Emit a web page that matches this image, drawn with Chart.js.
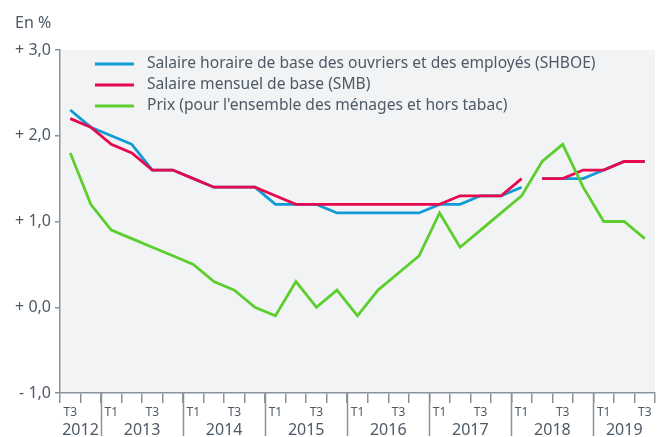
<!DOCTYPE html>
<html>
<head>
<meta charset="utf-8">
<script src="https://cdn.jsdelivr.net/npm/chart.js@4"></script>
<style>
  html, body { margin: 0; padding: 0; background: #fff; }
  #wrap { position: relative; width: 660px; height: 437px; }
</style>
</head>
<body>
<div id="wrap"><canvas id="chart" width="660" height="437"></canvas></div>
<script>
// Quarters, 2012 T3 -> 2019 T3
const periods = [
  '2012 T3', '2012 T4',
  '2013 T1', '2013 T2', '2013 T3', '2013 T4',
  '2014 T1', '2014 T2', '2014 T3', '2014 T4',
  '2015 T1', '2015 T2', '2015 T3', '2015 T4',
  '2016 T1', '2016 T2', '2016 T3', '2016 T4',
  '2017 T1', '2017 T2', '2017 T3', '2017 T4',
  '2018 T1', '2018 T2', '2018 T3', '2018 T4',
  '2019 T1', '2019 T2', '2019 T3'
];
const shownQuarters = ['T1', 'T3'];
const yTickLabels = { '-1': '- 1,0', '0': '+ 0,0', '1': '+ 1,0', '2': '+ 2,0', '3': '+ 3,0' };

const shboe = [2.3, 2.1, 2.0, 1.9, 1.6, 1.6, 1.5, 1.4, 1.4, 1.4, 1.2, 1.2, 1.2, 1.1, 1.1, 1.1, 1.1, 1.1,
  1.2, 1.2, 1.3, 1.3, 1.4, 1.5, 1.5, 1.5, 1.6, 1.7, 1.7];
const smb = [2.2, 2.1, 1.9, 1.8, 1.6, 1.6, 1.5, 1.4, 1.4, 1.4, 1.3, 1.2, 1.2, 1.2, 1.2, 1.2, 1.2, 1.2,
  1.2, 1.3, 1.3, 1.3, 1.5, 1.5, 1.5, 1.6, 1.6, 1.7, 1.7];
const prix = [1.8, 1.2, 0.9, 0.8, 0.7, 0.6, 0.5, 0.3, 0.2, 0.0, -0.1, 0.3, 0.0, 0.2, -0.1, 0.2, 0.4, 0.6,
  1.1, 0.7, 0.9, 1.1, 1.3, 1.7, 1.9, 1.4, 1.0, 1.0, 0.8];

// series break for the wage indices (new base after 2018 T1)
const breakAfter = '2018 T1';

const labels = [
  'Salaire horaire de base des ouvriers et des employés (SHBOE)',
  'Salaire mensuel de base (SMB)',
  "Prix (pour l'ensemble des ménages et hors tabac)"
];
const colors = ['#119bd6', '#e6094d', '#5ccf2e'];
const textColor = '#4d5965';
const axisColor = '#8a939b';

const breakIdx = periods.indexOf(breakAfter);
const gapSegment = {
  borderColor: ctx => ctx.p0DataIndex === breakIdx ? 'rgba(0,0,0,0)' : undefined
};

const chartBg = {
  id: 'chartBg',
  beforeDraw(chart) {
    const { ctx, chartArea: a } = chart;
    ctx.save();
    ctx.fillStyle = '#f2f3f5';
    ctx.fillRect(a.left, a.top, a.right - a.left, a.bottom - a.top);
    ctx.restore();
  }
};

const extras = {
  id: 'extras',
  afterDraw(chart) {
    const { ctx, chartArea: a, scales: { x } } = chart;
    ctx.save();
    // unit
    ctx.fillStyle = textColor;
    ctx.font = '16px "Noto Sans"';
    ctx.textBaseline = 'middle';
    ctx.textAlign = 'left';
    ctx.fillText('En %', 15, 23);

    // legend inside the plot
    ctx.font = '15.6px "Noto Sans"';
    [0, 1, 2].forEach(i => {
      const y = 64 + i * 21;
      ctx.strokeStyle = colors[i];
      ctx.lineWidth = 2.8;
      ctx.beginPath();
      ctx.moveTo(95, y);
      ctx.lineTo(134, y);
      ctx.stroke();
      ctx.fillStyle = textColor;
      ctx.fillText(labels[i], 147, y);
    });

    // years and their separators
    const half = (x.getPixelForValue(1) - x.getPixelForValue(0)) / 2;
    const years = [...new Set(periods.map(p => p.slice(0, 4)))];
    ctx.font = '16px "Noto Sans"';
    ctx.textAlign = 'center';
    years.forEach((yr, k) => {
      const idx = periods.map((p, i) => p.startsWith(yr) ? i : -1).filter(i => i >= 0);
      const x0 = x.getPixelForValue(idx[0]) - half;
      const x1 = x.getPixelForValue(idx[idx.length - 1]) + half;
      ctx.fillStyle = textColor;
      ctx.fillText(yr, (x0 + x1) / 2, 430);
      if (k > 0) {
        ctx.strokeStyle = axisColor;
        ctx.lineWidth = 1.5;
        ctx.beginPath();
        ctx.moveTo(Math.round(x0) + 0.5, a.bottom);
        ctx.lineTo(Math.round(x0) + 0.5, 436);
        ctx.stroke();
      }
    });
    ctx.restore();
  }
};

const mkSet = (i, data, order, seg) => ({
  label: labels[i],
  data: data,
  borderColor: colors[i],
  backgroundColor: colors[i],
  borderWidth: 2.8,
  pointRadius: 0,
  tension: 0,
  fill: false,
  order: order,
  segment: seg
});

new Chart(document.getElementById('chart'), {
  type: 'line',
  data: {
    labels: periods,
    datasets: [
      mkSet(0, shboe, 2, gapSegment),
      mkSet(1, smb, 1, gapSegment),
      mkSet(2, prix, 0, undefined)
    ]
  },
  options: {
    responsive: false,
    animation: false,
    layout: { padding: { top: 50, right: 5, left: 0, bottom: 0 } },
    plugins: {
      legend: { display: false },
      tooltip: { enabled: false }
    },
    scales: {
      x: {
        offset: true,
        afterFit: s => { s.height = 44; },
        border: { color: axisColor, width: 1.5 },
        grid: {
          offset: true,
          drawOnChartArea: false,
          drawTicks: true,
          tickLength: 10,
          color: axisColor,
          lineWidth: 1.5
        },
        ticks: {
          autoSkip: false,
          maxRotation: 0,
          padding: 2,
          color: textColor,
          font: { family: 'Noto Sans', size: 12 },
          callback: (v, i) => {
            const q = periods[i].slice(5);
            return shownQuarters.includes(q) ? q : '';
          }
        }
      },
      y: {
        min: -1,
        max: 3,
        afterFit: s => { s.width = 60; },
        border: { color: axisColor, width: 1.5 },
        grid: {
          drawOnChartArea: false,
          tickLength: 5,
          color: axisColor,
          lineWidth: 1.5
        },
        ticks: {
          stepSize: 1,
          padding: 4,
          color: textColor,
          font: { family: 'Noto Sans', size: 16 },
          callback: v => yTickLabels[String(v)]
        }
      }
    }
  },
  plugins: [chartBg, extras]
});
</script>
</body>
</html>
